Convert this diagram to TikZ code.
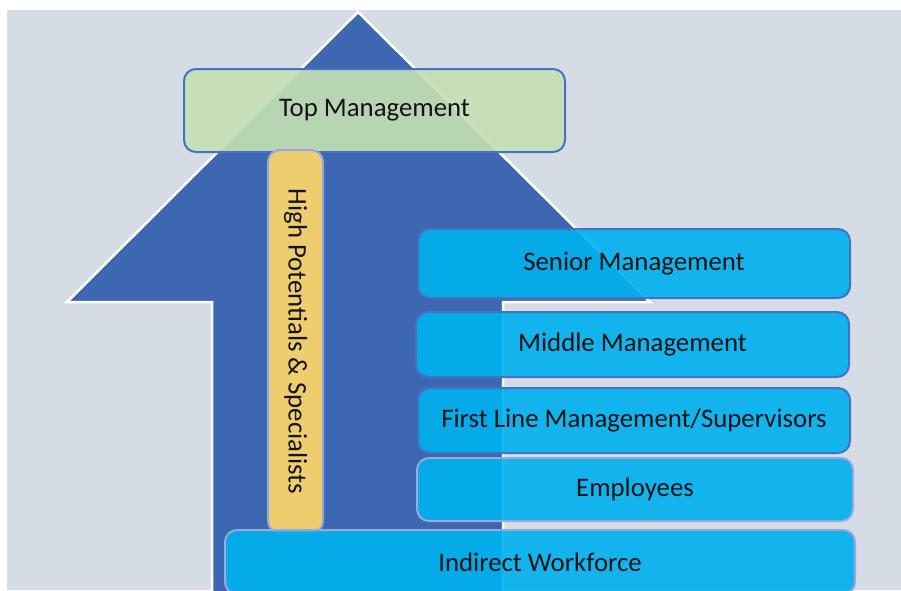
\documentclass[tikz,border=0pt]{standalone}
\usepackage{fontspec}
\setmainfont{Carlito}
\definecolor{pagebg}{RGB}{214,220,229}
\definecolor{arrowblue}{RGB}{61,103,177}
\definecolor{edgeblue}{RGB}{68,114,196}
\definecolor{edgelav}{RGB}{150,168,222}
\definecolor{boxgreen}{RGB}{197,224,180}
\definecolor{boxcyan}{RGB}{0,177,238}
\definecolor{boxyellow}{RGB}{237,205,110}
\begin{document}
\begin{tikzpicture}[x=1pt, y=-1pt, line width=2pt,
    every node/.style={font=\fontsize{26.8}{32}\selectfont, text=black!92, text opacity=1},
    level/.style={draw=edgeblue, rounded corners=12pt, fill=boxcyan, fill opacity=0.91, inner sep=0pt},
    levellight/.style={level, draw=edgelav}]
            \useasboundingbox (0,0) rectangle (901,590);
            \fill[pagebg] (7,10) rectangle (901,590);

            % Big arrow behind the levels
            \draw[white, fill=arrowblue, line width=2.5pt] (358,12) -- (650,302) -- (503,302) -- (503,595)
                -- (212,595) -- (212,302) -- (67,302) -- cycle;

            % Top of the ladder
            \node[level, draw=edgeblue, fill=boxgreen, minimum width=381pt, minimum height=83pt] (top) at (374.5,110.5) {Top Management};

            % Side track
            \node[levellight, fill=boxyellow, fill opacity=1, rotate=-90, minimum width=383pt, minimum height=55pt] (hp) at (295.5,341.5) {High Potentials \& Specialists};

            % Levels on the right
            \node[level, minimum width=432pt, minimum height=69pt] (senior) at (634,263.5) {Senior Management};
            \node[level, minimum width=433pt, minimum height=65pt] (middle) at (632.5,344.5) {Middle Management};
            \node[level, minimum width=432pt, minimum height=65pt] (first) at (634,420.5) {First Line Management/Supervisors};
            \node[levellight, minimum width=436pt, minimum height=63pt] (emp) at (635,489.5) {Employees};

            % Base
            \node[levellight, minimum width=630pt, minimum height=64pt] (indirect) at (540,562) {Indirect Workforce};
        \end{tikzpicture}
\end{document}
